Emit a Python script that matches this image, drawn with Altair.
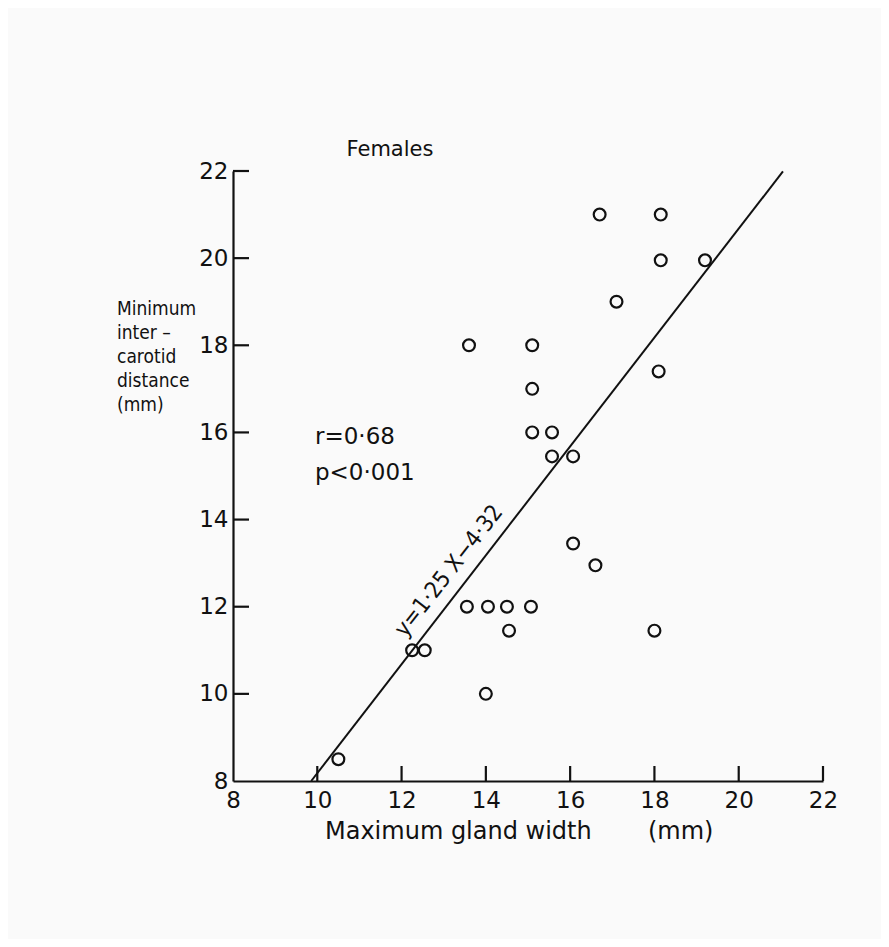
import altair as alt
import pandas as pd

# ---- data ----
gland_width = [10.5, 12.25, 12.55, 14.0, 14.55, 13.55, 14.05, 14.5, 15.07,
               15.1, 15.1, 15.57, 15.57, 16.07, 16.07, 16.6, 18.0, 16.7,
               18.15, 18.15, 19.2, 17.1, 15.1, 18.1, 13.6]
carotid_dist = [8.5, 11.0, 11.0, 10.0, 11.45, 12.0, 12.0, 12.0, 12.0,
                17.0, 16.0, 16.0, 15.45, 15.45, 13.45, 12.95, 11.45, 21.0,
                21.0, 19.95, 19.95, 19.0, 18.0, 17.4, 18.0]

line_x = [9.856, 21.05]
line_y = [8.0, 21.99]

x_ticks = [8, 10, 12, 14, 16, 18, 20, 22]
y_ticks = [8, 10, 12, 14, 16, 18, 20, 22]
x_inner_ticks = [10, 12, 14, 16, 18, 20, 22]
y_inner_ticks = [10, 12, 14, 16, 18, 20, 22]

title_text = "Females"
x_title_main = "Maximum gland width"
x_title_unit = "(mm)"
y_title_lines = ["Minimum", "inter –", "carotid", "distance", "(mm)"]
stat_r = "r=0·68"
stat_p = "p<0·001"
equation = "y=1·25 X−4·32"

FONT = "DejaVu Sans"
COND = "DejaVu Sans Condensed, Liberation Sans Narrow, Roboto, sans-serif"
INK = "#111111"
W, H = 590, 610

pts = pd.DataFrame({"x": gland_width, "y": carotid_dist})
line_df = pd.DataFrame({"x": line_x, "y": line_y})

xs = alt.Scale(domain=[8, 22], nice=False, zero=False)
ys = alt.Scale(domain=[8, 22], nice=False, zero=False)

x_axis = alt.Axis(values=x_ticks, title=None, ticks=False, grid=False,
                  domainColor=INK, domainWidth=2.2, labelFont=FONT,
                  labelFontSize=23, labelColor=INK, labelPadding=8,
                  labelFlush=False, format="d")
y_axis = alt.Axis(values=y_ticks, title=None, ticks=False, grid=False,
                  domainColor=INK, domainWidth=2.2, labelFont=FONT,
                  labelFontSize=23, labelColor=INK, labelPadding=5,
                  labelFlush=False, format="d")

points = alt.Chart(pts).mark_point(shape="circle", filled=False, size=140,
                                   strokeWidth=2.2, color=INK, opacity=1).encode(
    x=alt.X("x:Q", scale=xs, axis=x_axis),
    y=alt.Y("y:Q", scale=ys, axis=y_axis),
)

reg = alt.Chart(line_df).mark_line(color=INK, strokeWidth=2).encode(
    x=alt.X("x:Q", scale=xs),
    y=alt.Y("y:Q", scale=ys),
)

ytick_rules = alt.Chart(pd.DataFrame({"v": y_inner_ticks})).mark_rule(
    color=INK, strokeWidth=2.2).encode(
    y=alt.Y("v:Q", scale=ys), x=alt.value(0), x2=alt.value(16))
xtick_rules = alt.Chart(pd.DataFrame({"v": x_inner_ticks})).mark_rule(
    color=INK, strokeWidth=2.2).encode(
    x=alt.X("v:Q", scale=xs), y=alt.value(H), y2=alt.value(H - 15))


def label(text, px, py, size=22, align="left", baseline="middle", angle=0,
          font=FONT):
    kw = dict(text=text, font=font, fontSize=size, color=INK,
              align=align, baseline=baseline)
    if angle:
        kw["angle"] = angle
    return alt.Chart(pd.DataFrame({"a": [0]})).mark_text(**kw).encode(
        x=alt.value(px), y=alt.value(py))


texts = [
    label(title_text, 157, -21, size=21, align="center"),
    label(stat_r, 82, 266, size=23),
    label(stat_p, 82, 302, size=23),
    label(equation, 216, 400, size=23, align="center", angle=308, font=COND),
    label(x_title_main, 92, 661, size=24),
    label(x_title_unit, 415, 661, size=24),
]
for i, ln in enumerate(y_title_lines):
    texts.append(label(ln, -116, 138 + 24 * i, size=19, font=COND))

chart = alt.layer(points, reg, ytick_rules, xtick_rules, *texts).properties(
    width=W, height=H,
    autosize=alt.AutoSizeParams(type="none"),
    padding={"left": 225, "top": 163, "right": 58, "bottom": 158},
    background="#fafafa",
).configure_view(stroke=None)

chart.save("out.html", embed_options={"renderer": "svg", "actions": False})
